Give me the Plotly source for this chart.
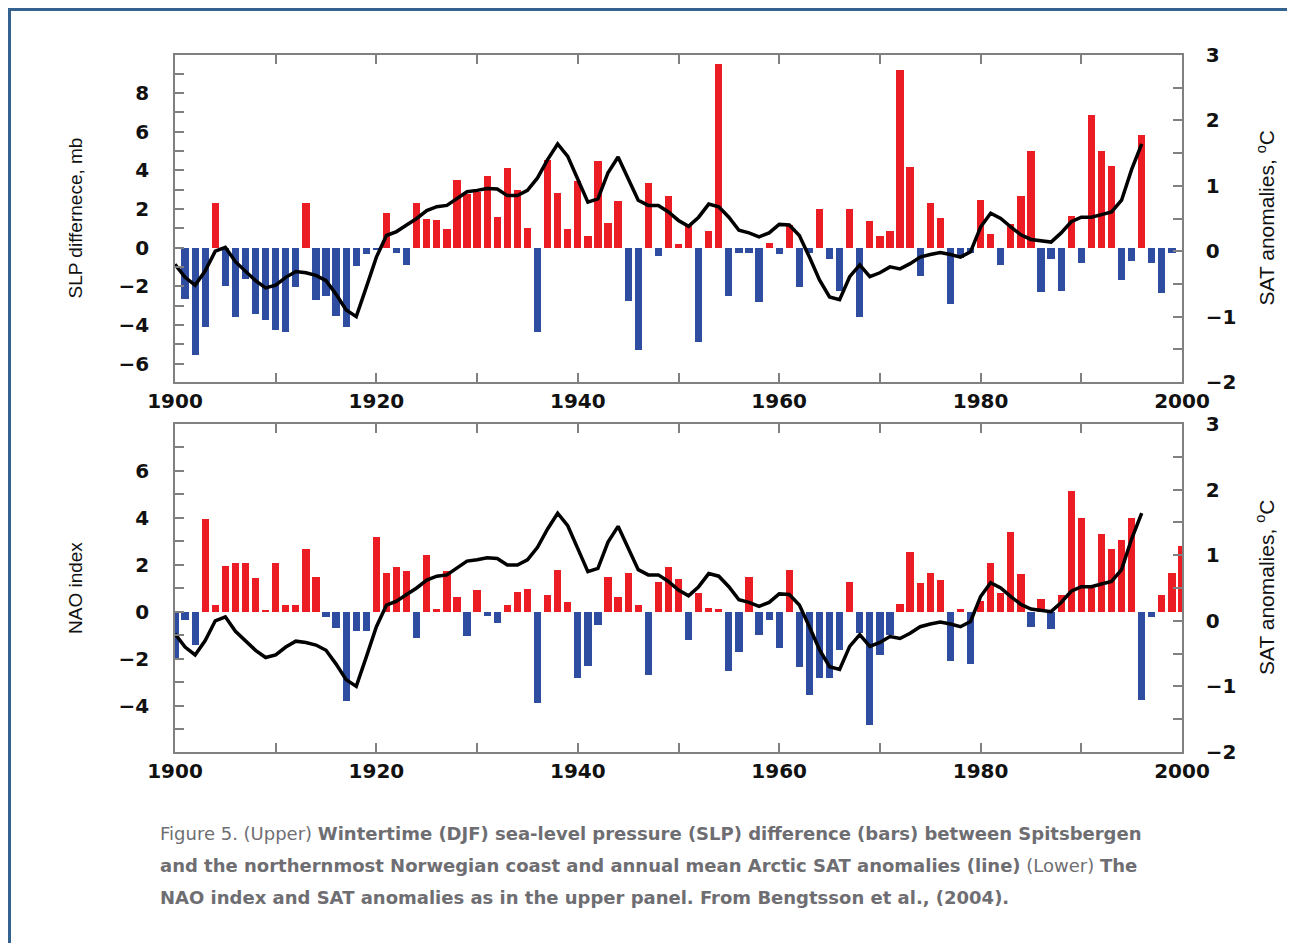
import plotly.graph_objects as go

# ---------------- data ----------------
slp_years = list(range(1901, 2000))
slp_values = [
    -2.66, -5.55, -4.12, 2.29, -1.98, -3.57, -1.60, -3.44, -3.73, -4.24,   # 1901-1910
    -4.38, -2.01, 2.32, -2.70, -2.49, -3.56, -4.12, -0.93, -0.35, -0.12,   # 1911-1920
    1.80, -0.30, -0.88, 2.29, 1.46, 1.43, 0.98, 3.52, 2.80, 2.87,          # 1921-1930
    3.73, 1.60, 4.12, 2.97, 1.00, -4.35, 4.52, 2.84, 0.95, 3.47,           # 1931-1940
    0.60, 4.47, 1.29, 2.41, -2.75, -5.29, 3.35, -0.43, 2.70, 0.17,         # 1941-1950
    1.15, -4.90, 0.86, 9.50, -2.49, -0.26, -0.29, -2.80, 0.22, -0.31,      # 1951-1960
    1.15, -2.06, -0.30, 2.01, -0.60, -2.23, 2.01, -3.61, 1.37, 0.60,       # 1961-1970
    0.86, 9.19, 4.18, -1.46, 2.29, 1.55, -2.92, -0.52, -0.26, 2.46,        # 1971-1980
    0.69, -0.91, 1.20, 2.70, 5.02, -2.29, -0.60, -2.23, 1.63, -0.77,       # 1981-1990
    6.84, 4.98, 4.21, -1.68, -0.69, 5.84, -0.77, -2.32, -0.26,             # 1991-1999
]

nao_years = list(range(1900, 2001))
nao_values = [
    -2.06,                                                                  # 1900
    -0.36, -1.42, 3.94, 0.26, 1.96, 2.06, 2.06, 1.42, 0.05, 2.09,          # 1901-1910
    0.28, 0.28, 2.67, 1.46, -0.24, -0.71, -3.80, -0.82, -0.82, 3.17,       # 1911-1920
    1.63, 1.88, 1.73, -1.11, 2.40, 0.11, 1.71, 0.61, -1.02, 0.90,          # 1921-1930
    -0.17, -0.50, 0.28, 0.85, 0.95, -3.91, 0.71, 1.78, 0.40, -2.84,        # 1931-1940
    -2.30, -0.57, 1.46, 0.61, 1.63, 0.28, -2.70, 1.28, 1.88, 1.39,         # 1941-1950
    -1.21, 0.78, 0.14, 0.11, -2.52, -1.71, 1.49, -1.00, -0.36, -1.54,      # 1951-1960
    1.78, -2.37, -3.55, -2.84, -2.84, -1.63, 1.25, -0.92, -4.83, -1.85,    # 1961-1970
    -1.00, 0.31, 2.53, 1.21, 1.63, 1.35, -2.09, 0.11, -2.23, 0.45,         # 1971-1980
    2.06, 0.78, 3.41, 1.61, -0.64, 0.53, -0.75, 0.71, 5.12, 3.98,          # 1981-1990
    1.00, 3.31, 2.66, 3.06, 3.98, -3.77, -0.21, 0.71, 1.66, 2.80,          # 1991-2000
]

sat_years = list(range(1900, 1997))
sat_values = [
    -0.20,                                                                  # 1900
    -0.40, -0.52, -0.30, 0.00, 0.06, -0.16, -0.30, -0.45, -0.56, -0.52,    # 1901-1910
    -0.40, -0.31, -0.33, -0.37, -0.45, -0.66, -0.90, -1.00, -0.55, -0.09,  # 1911-1920
    0.24, 0.30, 0.40, 0.50, 0.62, 0.68, 0.70, 0.80, 0.91, 0.93,            # 1921-1930
    0.96, 0.95, 0.85, 0.85, 0.93, 1.12, 1.40, 1.64, 1.45, 1.10,            # 1931-1940
    0.75, 0.80, 1.20, 1.44, 1.10, 0.78, 0.70, 0.70, 0.60, 0.47,            # 1941-1950
    0.38, 0.52, 0.72, 0.68, 0.52, 0.32, 0.28, 0.22, 0.28, 0.41,            # 1951-1960
    0.40, 0.24, -0.09, -0.44, -0.70, -0.74, -0.39, -0.21, -0.39, -0.33,    # 1961-1970
    -0.24, -0.27, -0.19, -0.09, -0.05, -0.02, -0.05, -0.09, -0.01, 0.37,   # 1971-1980
    0.58, 0.50, 0.37, 0.25, 0.18, 0.16, 0.14, 0.28, 0.45, 0.52,            # 1981-1990
    0.52, 0.56, 0.60, 0.78, 1.25, 1.64,                                    # 1991-1996
]

upper_left_title = "SLP differnece, mb"
lower_left_title = "NAO index"
right_title = "SAT anomalies, <sup>o</sup>C"
caption_lines = [
    "Figure 5. (Upper) <b>Wintertime (DJF) sea-level pressure (SLP) difference (bars) between Spitsbergen</b>",
    "<b>and the northernmost Norwegian coast and annual mean Arctic SAT anomalies (line)</b> (Lower) <b>The</b>",
    "<b>NAO index and SAT anomalies as in the upper panel. From Bengtsson et al., (2004).</b>",
]

# ---------------- styling / layout ----------------
OFF = 8                                   # page body margin
W, H = 1295 - OFF, 943 - OFF              # figure size
L, R, T, B = 175, 1182, 55, 752           # plot-area box in page pixels
UP_BOT, LO_TOP = 382, 424
RED, BLUE = "#ec1c24", "#2e4da0"
FRAME = "#808080"
TICKFONT = dict(family="DejaVu Sans", size=20, color="#111111", weight="bold")
TITLEFONT_L = dict(family="Liberation Sans Narrow, Liberation Sans, Arial", size=19, color="#111111")
TITLEFONT_R = dict(family="Liberation Sans Narrow, Liberation Sans, Arial", size=21, color="#111111")
CAPFONT = dict(family="DejaVu Sans", size=18, color="#6e6e72")


def xp(px):
    return (px - L) / (R - L)


def yp(py):
    return (B - py) / (B - T)


def colors(vals):
    return [RED if v > 0 else BLUE for v in vals]


fig = go.Figure()
fig.add_trace(go.Bar(x=slp_years, y=slp_values, marker=dict(color=colors(slp_values), line=dict(width=0)),
                     width=0.72, xaxis="x", yaxis="y", showlegend=False))
fig.add_trace(go.Scatter(x=sat_years, y=sat_values, mode="lines", line=dict(color="black", width=3.5),
                         xaxis="x", yaxis="y2", showlegend=False))
fig.add_trace(go.Bar(x=nao_years, y=nao_values, marker=dict(color=colors(nao_values), line=dict(width=0)),
                     width=0.72, xaxis="x2", yaxis="y3", showlegend=False))
fig.add_trace(go.Scatter(x=sat_years, y=sat_values, mode="lines", line=dict(color="black", width=3.5),
                         xaxis="x2", yaxis="y4", showlegend=False))

tick_common = dict(ticks="inside", ticklen=9, tickwidth=1.5, tickcolor=FRAME,
                   showline=True, linecolor=FRAME, linewidth=1.5, showgrid=False, zeroline=False,
                   tickfont=TICKFONT)


def minor(d):
    return dict(dtick=d, ticks="inside", ticklen=9, tickwidth=1.5, tickcolor=FRAME, showgrid=False)


xcommon = dict(range=[1900, 2000], dtick=20, tick0=1900, mirror="ticks", minor=minor(10),
               ticklabelstandoff=0, **tick_common)

up_dom = [yp(UP_BOT), 1.0]
lo_dom = [0.0, yp(LO_TOP)]

fig.update_layout(
    width=W, height=H,
    margin=dict(l=L - OFF, r=W - (R - OFF), t=T - OFF, b=H - (B - OFF), pad=0),
    paper_bgcolor="white", plot_bgcolor="white",
    bargap=0, barmode="overlay",
    xaxis=dict(domain=[0, 1], anchor="y", **xcommon),
    xaxis2=dict(domain=[0, 1], anchor="y3", **xcommon),
    yaxis=dict(domain=up_dom, anchor="x", range=[-6.95, 9.97], dtick=2, tick0=0, minor=minor(1),
               ticklabelstandoff=20, **tick_common),
    yaxis2=dict(overlaying="y", side="right", anchor="x", range=[-2, 3], dtick=1, tick0=0, minor=minor(0.5),
                ticklabelstandoff=18, **tick_common),
    yaxis3=dict(domain=lo_dom, anchor="x2", range=[-5.98, 7.99], dtick=2, tick0=0, minor=minor(1),
                ticklabelstandoff=20, **tick_common),
    yaxis4=dict(overlaying="y3", side="right", anchor="x2", range=[-2, 3], dtick=1, tick0=0, minor=minor(0.5),
                ticklabelstandoff=18, **tick_common),
)

ann = []
ann.append(dict(text=upper_left_title, x=xp(75), y=yp((T + UP_BOT) / 2), xref="paper", yref="paper",
                textangle=-90, showarrow=False, font=TITLEFONT_L, xanchor="center", yanchor="middle"))
ann.append(dict(text=lower_left_title, x=xp(75), y=yp((LO_TOP + B) / 2), xref="paper", yref="paper",
                textangle=-90, showarrow=False, font=TITLEFONT_L, xanchor="center", yanchor="middle"))
ann.append(dict(text=right_title, x=xp(1265), y=yp((T + UP_BOT) / 2), xref="paper", yref="paper",
                textangle=-90, showarrow=False, font=TITLEFONT_R, xanchor="center", yanchor="middle"))
ann.append(dict(text=right_title, x=xp(1265), y=yp((LO_TOP + B) / 2), xref="paper", yref="paper",
                textangle=-90, showarrow=False, font=TITLEFONT_R, xanchor="center", yanchor="middle"))
for i, line in enumerate(caption_lines):
    ann.append(dict(text=line, x=xp(158), y=yp(833 + 32 * i), xref="paper", yref="paper",
                    showarrow=False, font=CAPFONT, xanchor="left", yanchor="middle", align="left"))
fig.update_layout(annotations=ann)

BORDER = "#35618f"
fig.update_layout(shapes=[
    dict(type="line", xref="paper", yref="paper", x0=xp(OFF), x1=xp(1295), y0=yp(OFF + 1.5), y1=yp(OFF + 1.5),
         line=dict(color=BORDER, width=3)),
    dict(type="line", xref="paper", yref="paper", x0=xp(OFF + 1.5), x1=xp(OFF + 1.5), y0=yp(OFF), y1=yp(943),
         line=dict(color=BORDER, width=3)),
])

fig.write_html("out.html")
